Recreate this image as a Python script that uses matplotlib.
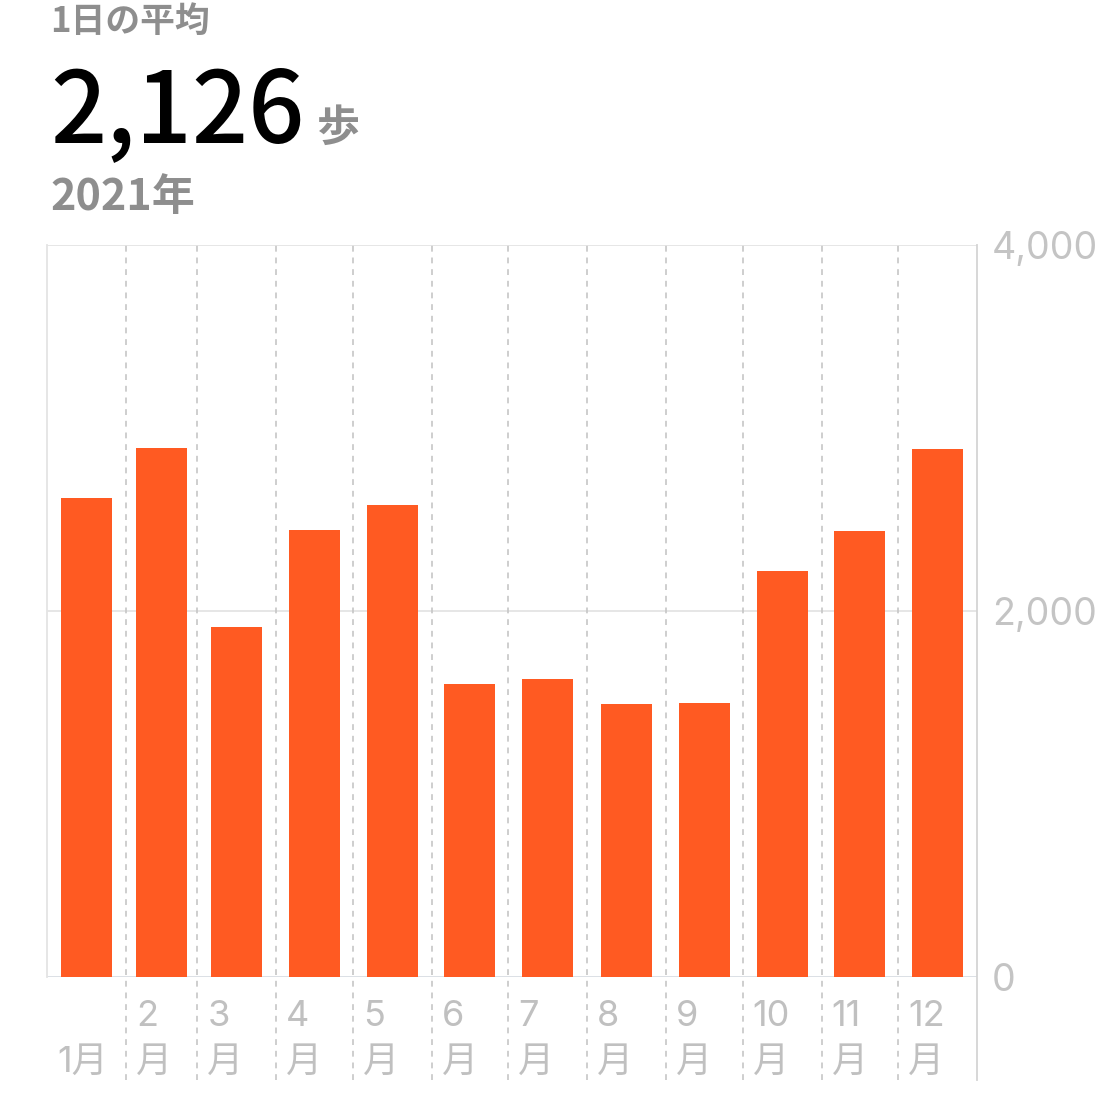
import matplotlib
matplotlib.use("Agg")
import matplotlib.pyplot as plt
import matplotlib.transforms as mtransforms

plt.rcParams['font.family'] = ['Noto Sans CJK JP', 'DejaVu Sans']

# data
months = ["1", "2", "3", "4", "5", "6", "7", "8", "9", "10", "11", "12"]
month_days = [31, 28, 31, 30, 31, 30, 31, 31, 30, 31, 30, 31]
steps = [2620, 2890, 1910, 2440, 2580, 1600, 1630, 1490, 1500, 2220, 2435, 2885]
y_ticks = [0, 2000, 4000]
y_tick_labels = ["0", "2,000", "4,000"]

W, H = 1113, 1111
fig = plt.figure(figsize=(W / 100, H / 100), dpi=100)
ax = fig.add_axes([47 / W, 1 - 977 / H, 930 / W, 732 / H])

starts = [sum(month_days[:i]) for i in range(12)]
centers = [s + d / 2 for s, d in zip(starts, month_days)]

ax.set_xlim(0, 365)
ax.set_ylim(0, 4000)
for sp in ax.spines.values():
    sp.set_visible(False)
ax.set_xticks([])
ax.set_yticks([])

# horizontal grid
for v in y_ticks:
    ax.axhline(v, color='#d9dde3' if v == 0 else '#e4e4e4', lw=1.3, zorder=1)

# left border
ax.plot([0, 0], [0, 1], transform=ax.transAxes, color='#e4e4e4', lw=1.3, clip_on=False)
# right border, extends under labels
ax.plot([1, 1], [-0.141, 1], transform=ax.transAxes, color='#d4d4d4', lw=1.3, clip_on=False)

# month boundaries
blend = mtransforms.blended_transform_factory(ax.transData, ax.transAxes)
for s in starts[1:]:
    ax.plot([s, s], [-0.141, 1], transform=blend, color='#c6c6c6', lw=1.2,
            linestyle=(0, (3.5, 3.5)), clip_on=False, zorder=2)

ax.bar(centers, steps, width=20, color='#ff5a22', zorder=3)

axis_font = ['Inter', 'Noto Sans CJK JP']
lab_col = '#c0c0c0'

# x labels
lbl_tr = blend + mtransforms.ScaledTranslation(10 / 100, 0, fig.dpi_scale_trans)
for m, s in zip(months, starts):
    if m == "1":
        ax.text(s, -0.116, m + "月", transform=lbl_tr, ha='left', va='center',
                fontsize=26, color=lab_col, family=axis_font)
    else:
        ax.text(s, -0.0546, m, transform=lbl_tr, ha='left', va='center',
                fontsize=26, color=lab_col, family=axis_font)
        ax.text(s, -0.116, "月", transform=lbl_tr, ha='left', va='center',
                fontsize=26, color=lab_col, family=axis_font)

# y labels on right
ytr = mtransforms.blended_transform_factory(ax.transAxes, ax.transData)
for v, t in zip(y_ticks, y_tick_labels):
    ax.text(1.0161, v, t, transform=ytr, ha='left', va='center_baseline',
            fontsize=27, color='#c4c4c4', family=axis_font)

# header
fig.text(50 / W, 1 - 21 / H, "1日の平均", ha='left', va='center',
         fontsize=25, color='#8e8e8e', fontweight='bold')
fig.text(50 / W, 1 - 142 / H, "2,126", ha='left', va='baseline',
         fontsize=71, color='#000000', fontweight='medium')
fig.text(317 / W, 1 - 141 / H, "歩", ha='left', va='baseline',
         fontsize=31, color='#8e8e8e', fontweight='bold')
fig.text(50 / W, 1 - 210 / H, "2021年", ha='left', va='baseline',
         fontsize=31, color='#8e8e8e', fontweight='bold')

fig.savefig("out.png", dpi=100, facecolor='white')
